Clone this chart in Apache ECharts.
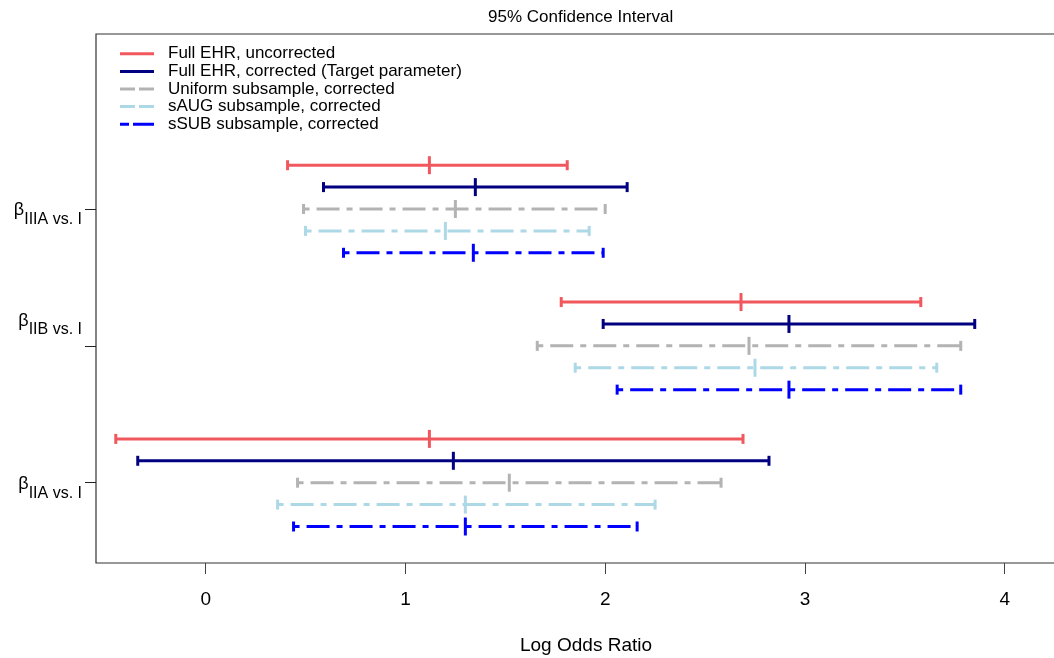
<!DOCTYPE html>
<html>
<head>
<meta charset="utf-8">
<title>95% Confidence Interval</title>
<script src="https://cdn.jsdelivr.net/npm/echarts@6.0.0/dist/echarts.min.js"></script>
<style>
    html, body { margin: 0; padding: 0; background: #fff; }
    #ciChart { width: 1054px; height: 658px; }
</style>
</head>
<body>
<div id="ciChart"></div>
<script>
// groups, top to bottom on the y axis
var groupNames = ['IIIA vs. I', 'IIB vs. I', 'IIA vs. I'];
var groupPos = [3, 2, 1];
var xTicks = [0, 1, 2, 3, 4];

var methodNames = [
    'Full EHR, uncorrected',
    'Full EHR, corrected (Target parameter)',
    'Uniform subsample, corrected',
    'sAUG subsample, corrected',
    'sSUB subsample, corrected'
];

// each array: [IIIA, IIB, IIA]
var lowerFullUncor = [0.41, 1.78, -0.45];
var estFullUncor   = [1.12, 2.68, 1.12];
var upperFullUncor = [1.81, 3.58, 2.69];

var lowerFullCor = [0.59, 1.99, -0.34];
var estFullCor   = [1.35, 2.92, 1.24];
var upperFullCor = [2.11, 3.85, 2.82];

var lowerUniform = [0.49, 1.66, 0.46];
var estUniform   = [1.25, 2.72, 1.52];
var upperUniform = [2.00, 3.78, 2.58];

var lowerSAUG = [0.50, 1.85, 0.36];
var estSAUG   = [1.20, 2.75, 1.30];
var upperSAUG = [1.92, 3.66, 2.25];

var lowerSSUB = [0.69, 2.06, 0.44];
var estSSUB   = [1.34, 2.92, 1.30];
var upperSSUB = [1.99, 3.78, 2.16];

var lowers = [lowerFullUncor, lowerFullCor, lowerUniform, lowerSAUG, lowerSSUB];
var ests   = [estFullUncor, estFullCor, estUniform, estSAUG, estSSUB];
var uppers = [upperFullUncor, upperFullCor, upperUniform, upperSAUG, upperSSUB];

var colors = ['#F0585E', '#000080', '#B3B3B3', '#ADD8E6', '#0000FF'];
var dashes = [null, null, [6, 7, 23, 7], [6, 7, 23, 7], [6, 7, 23, 7]];
var yShift = [0.32, 0.16, 0, -0.16, -0.32];
var icons = [
    'path://M0,0h34v3h-34z',
    'path://M0,0h34v3h-34z',
    'path://M0,0h15v3h-15zM19,0h15v3h-15z',
    'path://M0,0h15v3h-15zM19,0h15v3h-15z',
    'path://M0,0h9v3h-9zM13,0h21v3h-21z'
];

var fontName = '"Liberation Sans", Arial, sans-serif';

function makeRender(k) {
    return function (params, api) {
        var y = api.value(3);
        var a = api.coord([api.value(0), y]);
        var m = api.coord([api.value(1), y]);
        var b = api.coord([api.value(2), y]);
        var solid = { stroke: colors[k], lineWidth: 3, lineCap: 'butt' };
        var lineStyle = { stroke: colors[k], lineWidth: 3, lineCap: 'butt', lineDash: dashes[k] };
        return {
            type: 'group',
            children: [
                { type: 'line', shape: { x1: a[0], y1: a[1], x2: b[0], y2: b[1] }, style: lineStyle },
                { type: 'line', shape: { x1: a[0], y1: a[1] - 5, x2: a[0], y2: a[1] + 5 }, style: solid },
                { type: 'line', shape: { x1: b[0], y1: b[1] - 5, x2: b[0], y2: b[1] + 5 }, style: solid },
                { type: 'line', shape: { x1: m[0], y1: m[1] - 9, x2: m[0], y2: m[1] + 9 }, style: solid }
            ]
        };
    };
}

var series = [];
for (var k = 0; k < methodNames.length; k++) {
    var rows = [];
    for (var g = 0; g < groupNames.length; g++) {
        rows.push([lowers[k][g], ests[k][g], uppers[k][g], groupPos[g] + yShift[k]]);
    }
    series.push({
        name: methodNames[k],
        type: 'custom',
        renderItem: makeRender(k),
        itemStyle: { color: colors[k] },
        encode: { x: [0, 1, 2], y: 3 },
        data: rows
    });
}

var legendData = [];
for (var i = 0; i < methodNames.length; i++) {
    legendData.push({ name: methodNames[i], icon: icons[i] });
}

var ciChart = echarts.init(document.getElementById('ciChart'));
var option = {
    animation: false,
    backgroundColor: '#fff',
    title: {
        text: '95% Confidence Interval',
        left: 488,
        top: 9,
        padding: 0,
        textStyle: { fontFamily: fontName, fontSize: 17, fontWeight: 'normal', color: '#000' }
    },
    legend: {
        orient: 'vertical',
        left: 120,
        top: 45,
        padding: 0,
        itemWidth: 34,
        itemHeight: 3,
        itemGap: 0,
        data: legendData,
        textStyle: { fontFamily: fontName, fontSize: 17, color: '#000', lineHeight: 17.6, padding: [0, 0, 0, 9] }
    },
    grid: {
        left: 96,
        top: 34,
        width: 980,
        height: 529,
        outerBoundsMode: 'none',
        containLabel: false,
        show: true,
        borderColor: '#333',
        borderWidth: 1.2
    },
    xAxis: {
        type: 'value',
        min: -0.549,
        max: 4.357,
        name: 'Log Odds Ratio',
        nameLocation: 'middle',
        nameGap: 73,
        nameTextStyle: { fontFamily: fontName, fontSize: 19, color: '#000' },
        axisLine: { show: false, onZero: false },
        splitLine: { show: false },
        axisTick: { show: true, length: 11, customValues: xTicks, lineStyle: { color: '#444' } },
        axisLabel: {
            customValues: xTicks,
            margin: 27,
            fontFamily: fontName,
            fontSize: 19,
            color: '#000'
        }
    },
    yAxis: {
        type: 'value',
        min: 0.4132,
        max: 4.2788,
        axisLine: { show: false, onZero: false },
        splitLine: { show: false },
        axisTick: { show: true, length: 11, customValues: groupPos, lineStyle: { color: '#222' } },
        axisLabel: {
            customValues: groupPos,
            margin: 14,
            formatter: function (v) {
                var i = groupPos.indexOf(v);
                var s = '{b|β}{s|' + groupNames[i] + '}\n';
                if (groupNames[i] === 'IIB vs. I') {
                    s += '{gapBig| }';
                } else {
                    s += '{gap| }';
                }
                return s;
            },
            rich: {
                b: { fontFamily: fontName, fontSize: 18, color: '#000', lineHeight: 20, padding: [9, 0, 0, 0], verticalAlign: 'top' },
                s: { fontFamily: fontName, fontSize: 16, color: '#000', lineHeight: 20, padding: [19, 0, 9, 0], verticalAlign: 'top' },
                gap: { fontSize: 8, lineHeight: 13 },
                gapBig: { fontSize: 8, lineHeight: 66 }
            }
        }
    },
    series: series
};
ciChart.setOption(option);
</script>
</body>
</html>
